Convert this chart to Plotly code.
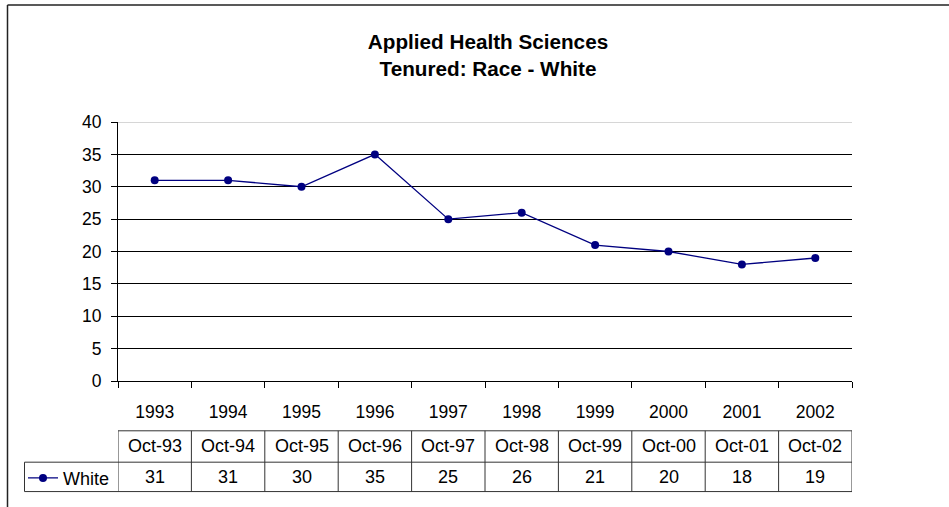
import plotly.graph_objects as go

years = ["1993", "1994", "1995", "1996", "1997", "1998", "1999", "2000", "2001", "2002"]
dates = ["Oct-93", "Oct-94", "Oct-95", "Oct-96", "Oct-97", "Oct-98", "Oct-99", "Oct-00", "Oct-01", "Oct-02"]
white = [31, 31, 30, 35, 25, 26, 21, 20, 18, 19]
series_name = "White"
y_ticks = [0, 5, 10, 15, 20, 25, 30, 35, 40]

W, H = 949, 507
# page-pixel positions of plot area
L, R, T, B = 118, 852, 122, 382
pw, ph = R - L, B - T

def px_x(p):
    return (p - L) / pw

def px_y(p):
    return (B - p) / ph

FONT = "Liberation Sans, Arial, sans-serif"
NAVY = "#000080"
idx = list(range(len(years)))

fig = go.Figure()
fig.add_trace(go.Scatter(
    x=idx, y=white, mode="lines+markers", name=series_name,
    line=dict(color=NAVY, width=1.3),
    marker=dict(color=NAVY, size=8, symbol="circle"),
))

shapes = []
border = dict(color="#222222", width=1.5)
# outer chart border (left and top visible)
shapes.append(dict(type="line", xref="paper", yref="paper",
                   x0=px_x(7.5), x1=px_x(7.5), y0=px_y(4.5), y1=px_y(600), line=border))
shapes.append(dict(type="line", xref="paper", yref="paper",
                   x0=px_x(7.5), x1=px_x(1000), y0=px_y(4.5), y1=px_y(4.5), line=border))
# gray plot-area top border
shapes.append(dict(type="line", xref="paper", yref="y", x0=0, x1=1, y0=40, y1=40,
                   line=dict(color="#c8c8c8", width=1.5), layer="above"))

# data table
y_top, y_mid, y_bot = px_y(432), px_y(463.5), px_y(493)
tbl_line = dict(color="#333333", width=1)
n = len(years)
shapes.append(dict(type="line", xref="x", yref="paper", x0=-0.5, x1=n - 0.5, y0=y_top, y1=y_top, line=tbl_line))
shapes.append(dict(type="line", xref="paper", yref="paper", x0=px_x(24.5), x1=1, y0=y_mid, y1=y_mid, line=tbl_line))
shapes.append(dict(type="line", xref="paper", yref="paper", x0=px_x(24.5), x1=1, y0=y_bot, y1=y_bot, line=tbl_line))
shapes.append(dict(type="line", xref="paper", yref="paper", x0=px_x(24.5), x1=px_x(24.5), y0=y_mid, y1=y_bot, line=tbl_line))
for i in range(n + 1):
    shapes.append(dict(type="line", xref="x", yref="paper", x0=i - 0.5, x1=i - 0.5,
                       y0=y_top, y1=y_bot, line=tbl_line))

TF = 18
annotations = []
for i in idx:
    annotations.append(dict(x=i, y=(y_top + y_mid) / 2, xref="x", yref="paper", text=dates[i],
                            showarrow=False, font=dict(family=FONT, size=TF, color="black"),
                            xanchor="center", yanchor="middle"))
    annotations.append(dict(x=i, y=(y_mid + y_bot) / 2, xref="x", yref="paper", text=str(white[i]),
                            showarrow=False, font=dict(family=FONT, size=TF, color="black"),
                            xanchor="center", yanchor="middle"))

AF = 17.5
fig.update_layout(
    width=W, height=H,
    margin=dict(l=L, r=W - R, t=T, b=H - B, pad=0),
    paper_bgcolor="white", plot_bgcolor="white",
    title=dict(text="<b>Applied Health Sciences<br>Tenured: Race - White</b>",
               x=488 / W, xanchor="center", y=1 - 49 / H, yanchor="top",
               font=dict(family=FONT, size=20.7, color="black")),
    font=dict(family=FONT, size=AF, color="black"),
    showlegend=True,
    legend=dict(x=px_x(23), xanchor="left", y=(y_mid + y_bot) / 2, yanchor="middle",
                bgcolor="rgba(0,0,0,0)", borderwidth=0, font=dict(family=FONT, size=TF, color="black"),
                itemwidth=30),
    shapes=shapes, annotations=annotations,
    xaxis=dict(range=[-0.5, n - 0.5], tickmode="array", tickvals=idx, ticktext=years,
               ticks="", showgrid=False, zeroline=False,
               showline=True, linecolor="black", linewidth=1,
               ticklabelstandoff=15, tickfont=dict(family=FONT, size=AF, color="black"),
               minor=dict(tickmode="array", tickvals=[i - 0.5 for i in range(n + 1)],
                          ticks="outside", ticklen=6, tickcolor="black", tickwidth=1, showgrid=False)),
    yaxis=dict(range=[0, 40], tickmode="array", tickvals=y_ticks, ticktext=[str(v) for v in y_ticks],
               ticks="outside", ticklen=6, tickcolor="black", tickwidth=1,
               showgrid=True, gridcolor="black", gridwidth=1, zeroline=False,
               showline=True, linecolor="black", linewidth=1,
               ticklabelstandoff=6, tickfont=dict(family=FONT, size=AF, color="black")),
)

fig.write_html("out.html", config={"displayModeBar": False},
               post_script="document.body.style.margin='0px';")
